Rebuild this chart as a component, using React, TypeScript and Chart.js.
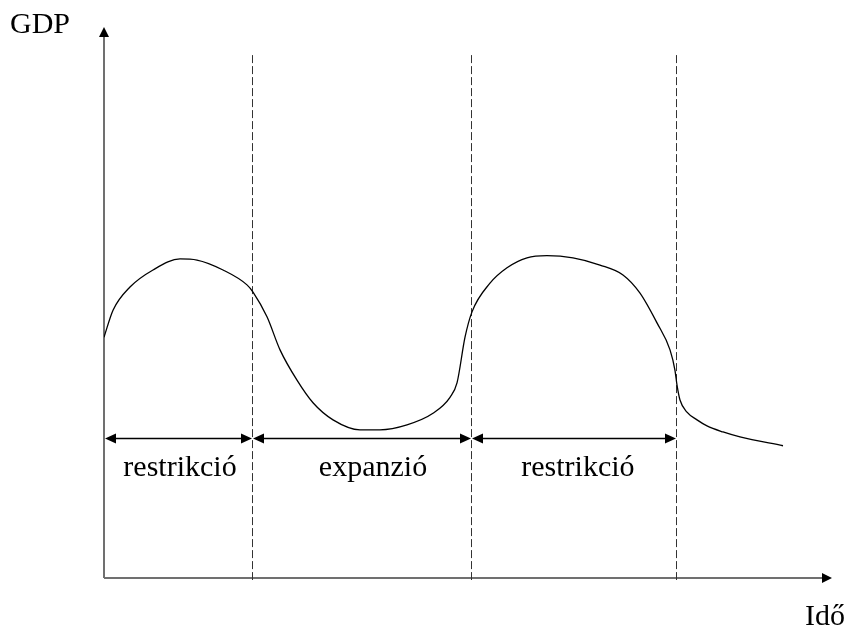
import React, { useEffect, useRef } from "react";
import { Chart, registerables } from "chart.js";

Chart.register(...registerables);

// Curve: time (0..100) vs GDP (0..100)
const curveTime = [0, 1.24, 3.57, 6.73, 10.44, 12.77, 16.35, 19.64, 20.47, 22.39, 24.18, 26.51, 28.71, 31.46, 35.16, 37.91, 41.62, 45.19, 47.53, 48.49, 49.59, 50.55, 53.02, 55.36, 58.1, 60.85, 64.42, 68.13, 71.29, 73.63, 75.96, 77.75, 78.43, 78.71, 79.12, 80.08, 81.46, 82.83, 85.03, 87.36, 93.27];
const curveGdp = [43.7, 48.6, 52.8, 55.9, 57.9, 57.7, 55.9, 53.2, 51.9, 47.4, 41.4, 35.9, 31.8, 28.7, 26.9, 26.9, 27.8, 29.9, 32.8, 35.4, 43.7, 48.3, 53.5, 56.3, 58.1, 58.5, 58.1, 56.8, 55.0, 51.7, 46.3, 41.4, 37.7, 35.0, 32.3, 30.1, 28.7, 27.6, 26.5, 25.6, 24.0];

// Phase boundaries (dashed lines) and labels
const phaseBounds = [0, 20.33, 50.41, 78.57];
const dashedBounds = [20.33, 50.41, 78.57];
const dashedTop = 94.9;
const phaseLabels = ["restrikció", "expanzió", "restrikció"];
const phaseLabelTimes = [10.44, 36.95, 65.1];
const arrowLevel = 25.4;
const labelLevel = 18.5;

const yAxisTitle = "GDP";
const xAxisTitle = "Idő";

const FONT = '30px "Liberation Serif", "Times New Roman", serif';

function arrowHead(ctx: CanvasRenderingContext2D, x: number, y: number, dir: "left" | "right" | "up", len: number, half: number) {
  ctx.beginPath();
  if (dir === "right") {
    ctx.moveTo(x, y);
    ctx.lineTo(x - len, y - half);
    ctx.lineTo(x - len, y + half);
  } else if (dir === "left") {
    ctx.moveTo(x, y);
    ctx.lineTo(x + len, y - half);
    ctx.lineTo(x + len, y + half);
  } else {
    ctx.moveTo(x, y);
    ctx.lineTo(x - half, y + len);
    ctx.lineTo(x + half, y + len);
  }
  ctx.closePath();
  ctx.fill();
}

const overlay = {
  id: "overlay",
  beforeDatasetsDraw(chart: any) {
    const ctx: CanvasRenderingContext2D = chart.ctx;
    const xs = chart.scales.x;
    const ys = chart.scales.y;
    const x0 = xs.getPixelForValue(0);
    const y0 = ys.getPixelForValue(0);
    const xEnd = xs.getPixelForValue(100);
    const yEnd = ys.getPixelForValue(100);
    ctx.save();
    // axes
    ctx.strokeStyle = "#707070";
    ctx.lineWidth = 2;
    ctx.beginPath();
    ctx.moveTo(x0, y0);
    ctx.lineTo(x0, yEnd + 9);
    ctx.moveTo(x0, y0);
    ctx.lineTo(xEnd - 9, y0);
    ctx.stroke();
    ctx.fillStyle = "#000";
    arrowHead(ctx, x0, yEnd, "up", 10, 5);
    arrowHead(ctx, xEnd, y0, "right", 10, 5);

    // dashed lines
    ctx.strokeStyle = "#333";
    ctx.lineWidth = 1;
    ctx.setLineDash([8, 3]);
    dashedBounds.forEach((t) => {
      const px = Math.round(xs.getPixelForValue(t)) + 0.5;
      ctx.beginPath();
      ctx.moveTo(px, ys.getPixelForValue(dashedTop));
      ctx.lineTo(px, y0 + 2);
      ctx.stroke();
    });
    ctx.setLineDash([]);

    // double arrows
    const ay = Math.round(ys.getPixelForValue(arrowLevel)) + 0.5;
    ctx.strokeStyle = "#000";
    ctx.lineWidth = 1.3;
    for (let i = 0; i < phaseBounds.length - 1; i++) {
      const a = xs.getPixelForValue(phaseBounds[i]) + 1;
      const b = xs.getPixelForValue(phaseBounds[i + 1]);
      ctx.beginPath();
      ctx.moveTo(a + 5, ay);
      ctx.lineTo(b - 5, ay);
      ctx.stroke();
      arrowHead(ctx, a, ay, "left", 11, 5);
      arrowHead(ctx, b, ay, "right", 11, 5);
    }

    // labels
    ctx.font = FONT;
    ctx.fillStyle = "#000";
    ctx.textAlign = "center";
    ctx.textBaseline = "alphabetic";
    const ly = ys.getPixelForValue(labelLevel);
    phaseLabels.forEach((lab, i) => {
      ctx.fillText(lab, xs.getPixelForValue(phaseLabelTimes[i]), ly);
    });

    // axis titles
    ctx.textAlign = "left";
    ctx.fillText(yAxisTitle, 10, 33);
    ctx.fillText(xAxisTitle, 805, 625);
    ctx.restore();
  },
};

export default function App() {
  const ref = useRef<HTMLCanvasElement>(null);
  useEffect(() => {
    if (!ref.current) return;
    const chart = new Chart(ref.current, {
      type: "scatter",
      data: {
        datasets: [
          {
            data: curveTime.map((t, i) => ({ x: t, y: curveGdp[i] })),
            showLine: true,
            borderColor: "#000",
            borderWidth: 1.3,
            pointRadius: 0,
            cubicInterpolationMode: "monotone",
            fill: false,
          },
        ],
      },
      options: {
        responsive: false,
        animation: false,
        layout: { padding: { left: 104, right: 21, top: 27, bottom: 51 } },
        plugins: { legend: { display: false }, tooltip: { enabled: false } },
        scales: {
          x: { type: "linear", min: 0, max: 100, display: false },
          y: { type: "linear", min: 0, max: 100, display: false },
        },
      },
      plugins: [overlay],
    });
    return () => chart.destroy();
  }, []);
  return (
    <div style={{ position: "fixed", left: 0, top: 0, width: 853, height: 629, background: "#fff" }}>
      <canvas ref={ref} width={853} height={629} style={{ display: "block" }} />
    </div>
  );
}
